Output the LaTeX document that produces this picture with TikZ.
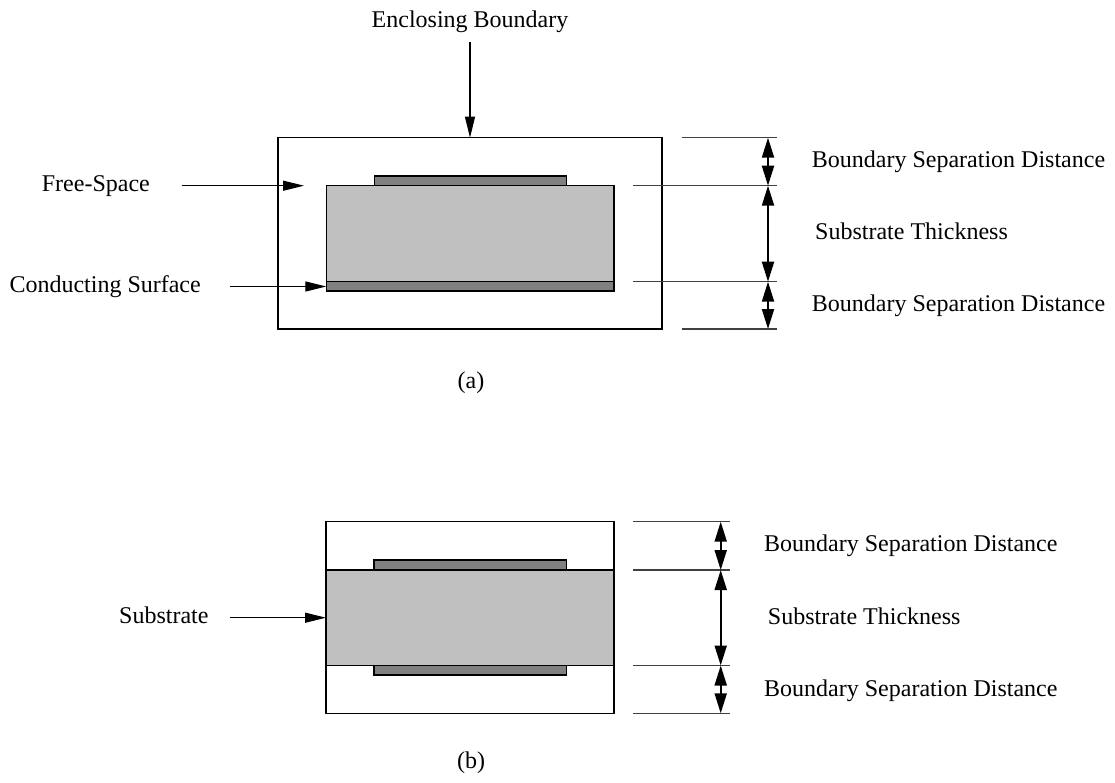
\documentclass[tikz,border=0pt]{standalone}
\usepackage{fontspec}
\setmainfont{Liberation Serif}
\usetikzlibrary{arrows.meta}
\definecolor{subgray}{RGB}{192,192,192}
\definecolor{metal}{RGB}{128,128,128}
\tikzset{
 box/.style={draw=black, line width=1.2pt},
 subst/.style={draw=black, fill=subgray, line width=1.2pt},
 cond/.style={draw=black, fill=metal, line width=1.2pt},
 ptr/.style={draw=black, line width=1.2pt, -{Triangle[length=21pt,width=10pt]}},
 dimarrow/.style={draw=black, line width=2pt, {Triangle[length=20pt,width=12pt]}-{Triangle[length=20pt,width=12pt]}},
 ext/.style={draw=black!75, line width=1.2pt},
 lbl/.style={font=\fontsize{24}{29}\selectfont, inner sep=0pt},
}
\begin{document}
\begin{tikzpicture}[x=1pt,y=-1pt]
\useasboundingbox (0,0) rectangle (1115,783);

% ---------- (a) ----------
\draw[box] (278,137.7) rectangle (662,329);
\draw[subst] (326.3,185.7) rectangle (614,281.7);
\draw[cond] (374.3,176) rectangle (566.3,185.7);
\draw[cond] (326.3,281.7) rectangle (614,291);

\coordinate (aE1) at (681.7,137.7);
\coordinate (aE2) at (633,185.7);
\coordinate (aE3) at (633,281.7);
\coordinate (aE4) at (681.7,329);
\coordinate (aF1) at (777,137.7);
\coordinate (aF2) at (777,185.7);
\coordinate (aF3) at (777,281.7);
\coordinate (aF4) at (777,329);
\draw[ext] (aE1) -- (aF1);
\draw[ext] (aE2) -- (aF2);
\draw[ext] (aE3) -- (aF3);
\draw[ext] (aE4) -- (aF4);

\coordinate (aD1) at (768,137.7);
\coordinate (aD2) at (768,185.7);
\coordinate (aD3) at (768,281.7);
\coordinate (aD4) at (768,329);
\draw[dimarrow] (aD1) -- (aD2);
\draw[dimarrow] (aD2) -- (aD3);
\draw[dimarrow] (aD3) -- (aD4);

\node[lbl, anchor=base] (eb) at (470,28) {Enclosing Boundary};
\node[lbl, anchor=base west] (fs) at (41.7,191.7) {Free-Space};
\node[lbl, anchor=base west] (cs) at (9.3,292.7) {Conducting Surface};
\node[lbl, anchor=base west] (bsd1) at (811.7,167.3) {Boundary Separation Distance};
\node[lbl, anchor=base west] (st1) at (815,239.3) {Substrate Thickness};
\node[lbl, anchor=base west] (bsd2) at (811.7,311.3) {Boundary Separation Distance};
\node[lbl] (la) at (471,383) {(a)};

\coordinate (ebS) at (470,42);
\coordinate (ebT) at (470,137.7);
\coordinate (fsS) at (181.7,185.7);
\coordinate (fsT) at (304,185.7);
\coordinate (csS) at (230,286.5);
\coordinate (csT) at (326.3,286.5);
\draw[ptr] (ebS) -- (ebT);
\draw[ptr] (fsS) -- (fsT);
\draw[ptr] (csS) -- (csT);

% ---------- (b) ----------
\draw[box] (326,521.7) rectangle (614,713.3);
\draw[subst] (326,570) rectangle (614,665.5);
\draw[cond] (374,560) rectangle (566.3,570);
\draw[cond] (374,665.5) rectangle (566.3,675);

\coordinate (bE1) at (633,521.7);
\coordinate (bE2) at (633,570);
\coordinate (bE3) at (633,665.5);
\coordinate (bE4) at (633,713.3);
\coordinate (bF1) at (730,521.7);
\coordinate (bF2) at (730,570);
\coordinate (bF3) at (730,665.5);
\coordinate (bF4) at (730,713.3);
\draw[ext] (bE1) -- (bF1);
\draw[ext] (bE2) -- (bF2);
\draw[ext] (bE3) -- (bF3);
\draw[ext] (bE4) -- (bF4);

\coordinate (bD1) at (720.7,521.7);
\coordinate (bD2) at (720.7,570);
\coordinate (bD3) at (720.7,665.5);
\coordinate (bD4) at (720.7,713.3);
\draw[dimarrow] (bD1) -- (bD2);
\draw[dimarrow] (bD2) -- (bD3);
\draw[dimarrow] (bD3) -- (bD4);

\node[lbl, anchor=base west] (sub) at (119,623.3) {Substrate};
\node[lbl, anchor=base west] (bsd3) at (764,551.7) {Boundary Separation Distance};
\node[lbl, anchor=base west] (st2) at (767.7,624) {Substrate Thickness};
\node[lbl, anchor=base west] (bsd4) at (764,696.7) {Boundary Separation Distance};
\node[lbl] (lb) at (471,763) {(b)};

\coordinate (subS) at (230,617.7);
\coordinate (subT) at (326,617.7);
\draw[ptr] (subS) -- (subT);
\end{tikzpicture}
\end{document}
